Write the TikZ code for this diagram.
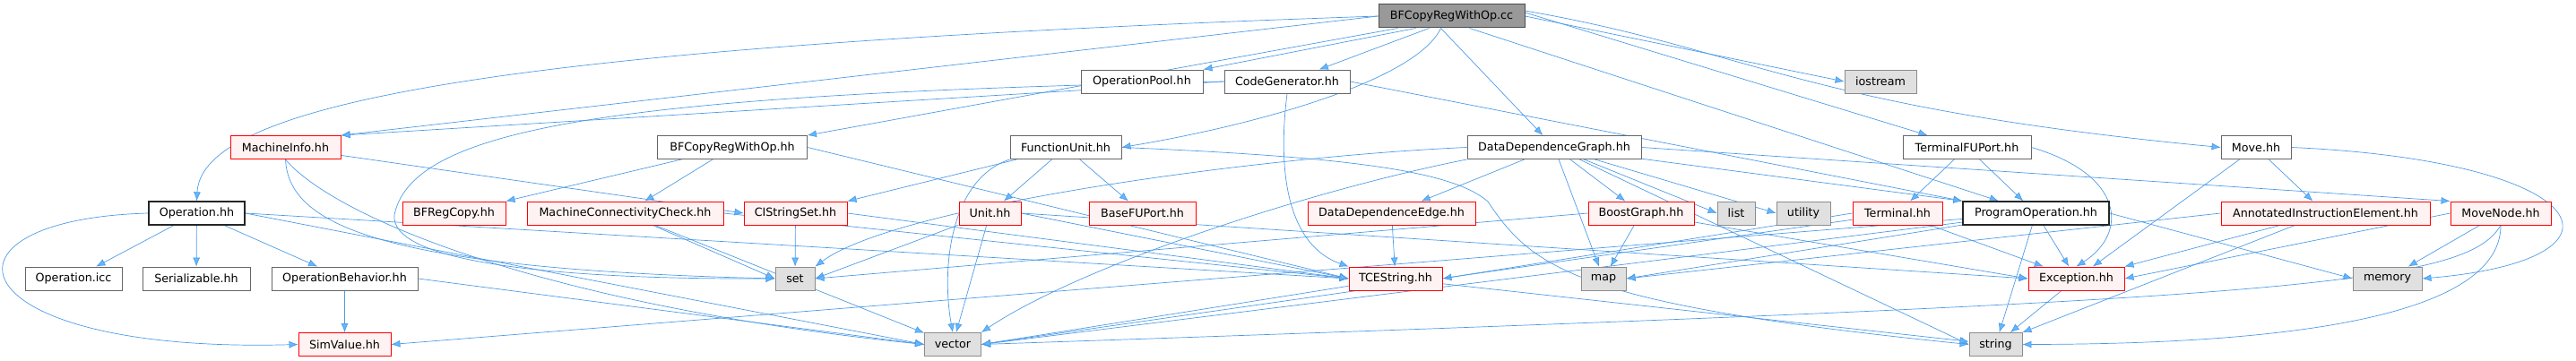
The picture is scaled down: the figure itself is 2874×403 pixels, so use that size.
\documentclass[tikz,border=0pt]{standalone}
\usepackage{fontspec}
\setmainfont{DejaVu Sans}
\usepackage{xcolor}
\usepackage{tikz}
\usetikzlibrary{arrows.meta}

\definecolor{edgeblue}{HTML}{4D9BE6}
\definecolor{tipblue}{HTML}{63B8FF}
\pgfdeclarelayer{edges}
\pgfsetlayers{edges,main}

\begin{document}
\begin{tikzpicture}[x=1pt, y=-1pt,
  every node/.style={font=\fontsize{12.7}{14}\selectfont, inner sep=0pt, minimum height=26pt},
  root/.style={draw=black!70, fill=black!40, line width=1pt},
  hdr/.style={draw=black!60, fill=white, line width=0.9pt},
  mainhdr/.style={draw=black!85, fill=white, line width=1.3pt},
  trunc/.style={draw=red, fill=red!5, line width=0.9pt},
  sys/.style={draw=black!45, fill=black!12, line width=0.9pt},
  dep/.style={draw=edgeblue, line width=0.7pt,
    -{Latex[length=10pt, width=8pt, fill=tipblue]}}]
  \useasboundingbox (0,0) rectangle (2874,403);

  \node[root, minimum width=163pt] (cc) at (1619.5,18) {BFCopyRegWithOp.cc};

  \node[hdr, minimum width=136pt] (opool) at (1274,91) {OperationPool.hh};
  \node[hdr, minimum width=140pt] (cg) at (1436,91) {CodeGenerator.hh};
  \node[sys, minimum width=80pt] (iostream) at (2098,91) {iostream};

  \node[trunc, minimum width=123pt] (mi) at (318.5,164.5) {MachineInfo.hh};
  \node[hdr, minimum width=167pt] (bfhh) at (817,164.5) {BFCopyRegWithOp.hh};
  \node[hdr, minimum width=124pt] (fu) at (1189,164.5) {FunctionUnit.hh};
  \node[hdr, minimum width=194pt] (ddg) at (1734,164.5) {DataDependenceGraph.hh};
  \node[hdr, minimum width=143pt] (tfu) at (2194.5,164.5) {TerminalFUPort.hh};
  \node[hdr, minimum width=78pt] (move) at (2517,164.5) {Move.hh};

  \node[mainhdr, minimum width=107pt] (op) at (219.5,238) {Operation.hh};
  \node[trunc, minimum width=115pt] (bfrc) at (506.5,238) {BFRegCopy.hh};
  \node[trunc, minimum width=219pt] (mcc) at (697.5,238) {MachineConnectivityCheck.hh};
  \node[trunc, minimum width=115pt] (cis) at (887.5,238) {CIStringSet.hh};
  \node[trunc, minimum width=69pt] (unit) at (1104.5,238) {Unit.hh};
  \node[trunc, minimum width=119pt] (bfu) at (1274.5,238) {BaseFUPort.hh};
  \node[trunc, minimum width=187pt] (dde) at (1552.5,238) {DataDependenceEdge.hh};
  \node[trunc, minimum width=118pt] (bg) at (1831,238) {BoostGraph.hh};
  \node[sys, minimum width=42pt] (list) at (1937,238) {list};
  \node[sys, minimum width=60pt] (utility) at (2012,238) {utility};
  \node[trunc, minimum width=100pt] (term) at (2117,238) {Terminal.hh};
  \node[mainhdr, minimum width=163pt] (po) at (2271.5,238) {ProgramOperation.hh};
  \node[trunc, minimum width=233pt] (aie) at (2594.5,238) {AnnotatedInstructionElement.hh};
  \node[trunc, minimum width=112pt] (mn) at (2790,238) {MoveNode.hh};

  \node[hdr, minimum width=108pt] (icc) at (82,311) {Operation.icc};
  \node[hdr, minimum width=120pt] (ser) at (219,311) {Serializable.hh};
  \node[hdr, minimum width=163pt] (obeh) at (384.5,311) {OperationBehavior.hh};
  \node[sys, minimum width=44pt] (set) at (887,311) {set};
  \node[trunc, minimum width=104pt] (tces) at (1557,311) {TCEString.hh};
  \node[sys, minimum width=50pt] (map) at (1789,311) {map};
  \node[trunc, minimum width=107pt] (exc) at (2316.5,311) {Exception.hh};
  \node[sys, minimum width=77pt] (memory) at (2663.5,311) {memory};

  \node[trunc, minimum width=103pt] (simv) at (384.5,384.5) {SimValue.hh};
  \node[sys, minimum width=63pt] (vector) at (1063,384.5) {vector};
  \node[sys, minimum width=59pt] (string) at (2226.5,384.5) {string};

  \begin{pgfonlayer}{edges}
  \draw[dep] (cc.west) .. controls (600,50) and (225,110) .. (op.north);
  \draw[dep] (cc.west) -- (mi.north east);
  \draw[dep] ([xshift=-60pt]cc.south) -- (bfhh.north east);
  \draw[dep] ([xshift=-40pt]cc.south) -- (opool.north east);
  \draw[dep] ([xshift=-25pt]cc.south) -- (cg);
  \draw[dep] ([xshift=-12pt]cc.south) .. controls (1580,90) and (1400,140) .. (fu.east);
  \draw[dep] ([xshift=-12pt]cc.south) -- (ddg);
  \draw[dep] (cc.east) -- (iostream.west);
  \draw[dep] ([yshift=4pt]cc.east) -- (tfu);
  \draw[dep] ([xshift=20pt]cc.south) -- (po);
  \draw[dep] ([yshift=6pt]cc.east) .. controls (1950,55) and (2010,120) .. (move.west);

  \draw[dep] (cg.west) -- (mi.north east);
  \draw[dep] (cg.west) .. controls (700,105) and (460,140) .. (440,240) .. controls (435,290) and (600,312) .. (set.west);
  \draw[dep] (cg.south) .. controls (1424,200) and (1440,275) .. (tces.north west);
  \draw[dep] (cg.east) -- (po.north west);

  \draw[dep] (mi) -- (cis.west);
  \draw[dep] (mi.south) .. controls (322,250) and (420,300) .. (set.west);
  \draw[dep] (mi.south) .. controls (370,240) and (600,340) .. (vector.west);

  \draw[dep] (bfhh) -- (bfrc.north east);
  \draw[dep] (bfhh) -- (mcc);
  \draw[dep] (bfhh.east) -- (tces.west);

  \draw[dep] (op) -- (icc);
  \draw[dep] (op) -- (ser);
  \draw[dep] (op) -- (obeh);
  \draw[dep] (op.west) .. controls (-90,245) and (-50,395) .. (simv.west);
  \draw[dep] (op.east) -- (tces.west);
  \draw[dep] (op.east) -- (vector.west);

  \draw[dep] (obeh) -- (simv);
  \draw[dep] (obeh.east) -- (vector.west);

  \draw[dep] (mcc) -- (set.west);
  \draw[dep] (mcc) -- (vector);
  \draw[dep] (mcc.east) -- (tces.west);

  \draw[dep] (cis) -- (set);
  \draw[dep] (cis.east) -- (tces.west);

  \draw[dep] (fu) -- (cis.north east);
  \draw[dep] (fu) -- (unit);
  \draw[dep] (fu) -- (bfu);
  \draw[dep] (fu.south west) .. controls (1060,200) and (1050,300) .. (vector.north);
  \draw[dep] (fu.east) .. controls (1500,175) and (1620,190) .. (1660,225) .. controls (1710,300) and (1760,340) .. (string.west);

  \draw[dep] (unit) -- (set.east);
  \draw[dep] (unit) -- (vector);
  \draw[dep] (unit.east) -- (tces.west);
  \draw[dep] (unit.east) -- (exc.west);

  \draw[dep] (ddg) -- (dde);
  \draw[dep] (ddg) -- (bg);
  \draw[dep] (ddg) -- (list.west);
  \draw[dep] (ddg) -- (utility.west);
  \draw[dep] (ddg) -- (map);
  \draw[dep] (ddg) -- (po.north west);
  \draw[dep] (ddg.east) -- (mn.north west);
  \draw[dep] (ddg.west) .. controls (1400,175) and (1000,230) .. (set.north east);
  \draw[dep] (ddg.south west) .. controls (1450,215) and (1200,300) .. (vector.north east);
  \draw[dep] (ddg) -- (string.west);

  \draw[dep] (dde) -- (tces);

  \draw[dep] (bg) -- (map);
  \draw[dep] (bg) -- (exc.west);
  \draw[dep] (bg.west) -- (set.east);

  \draw[dep] (tfu) -- (term);
  \draw[dep] (tfu) -- (po);
  \draw[dep] (tfu.east) .. controls (2370,195) and (2375,260) .. (exc.north);

  \draw[dep] (term.west) -- (tces.east);
  \draw[dep] (term) -- (exc);
  \draw[dep] (term) -- (vector.east);

  \draw[dep] (po) -- (map.east);
  \draw[dep] (po) -- (exc);
  \draw[dep] (po) -- (string);
  \draw[dep] (po.east) -- (memory.west);
  \draw[dep] (po) -- (vector.east);
  \draw[dep] (po) -- (simv.east);

  \draw[dep] (move) -- (aie);
  \draw[dep] (move) -- (exc);
  \draw[dep] (move.east) .. controls (2900,180) and (2950,290) .. (memory.east);

  \draw[dep] (aie) -- (exc.north east);
  \draw[dep] (aie) -- (string.north east);
  \draw[dep] (aie.west) -- (map.east);

  \draw[dep] (mn) -- (memory);
  \draw[dep] (mn.west) -- (exc.east);
  \draw[dep] (mn.south) .. controls (2790,330) and (2650,384) .. (string.east);
  \draw[dep] (mn.south) .. controls (2750,320) and (2550,335) .. (vector.east);

  \draw[dep] (exc) -- (string);
  \draw[dep] (tces) -- (string);
  \draw[dep] (tces) -- (vector.east);
  \end{pgfonlayer}
\end{tikzpicture}
\end{document}
